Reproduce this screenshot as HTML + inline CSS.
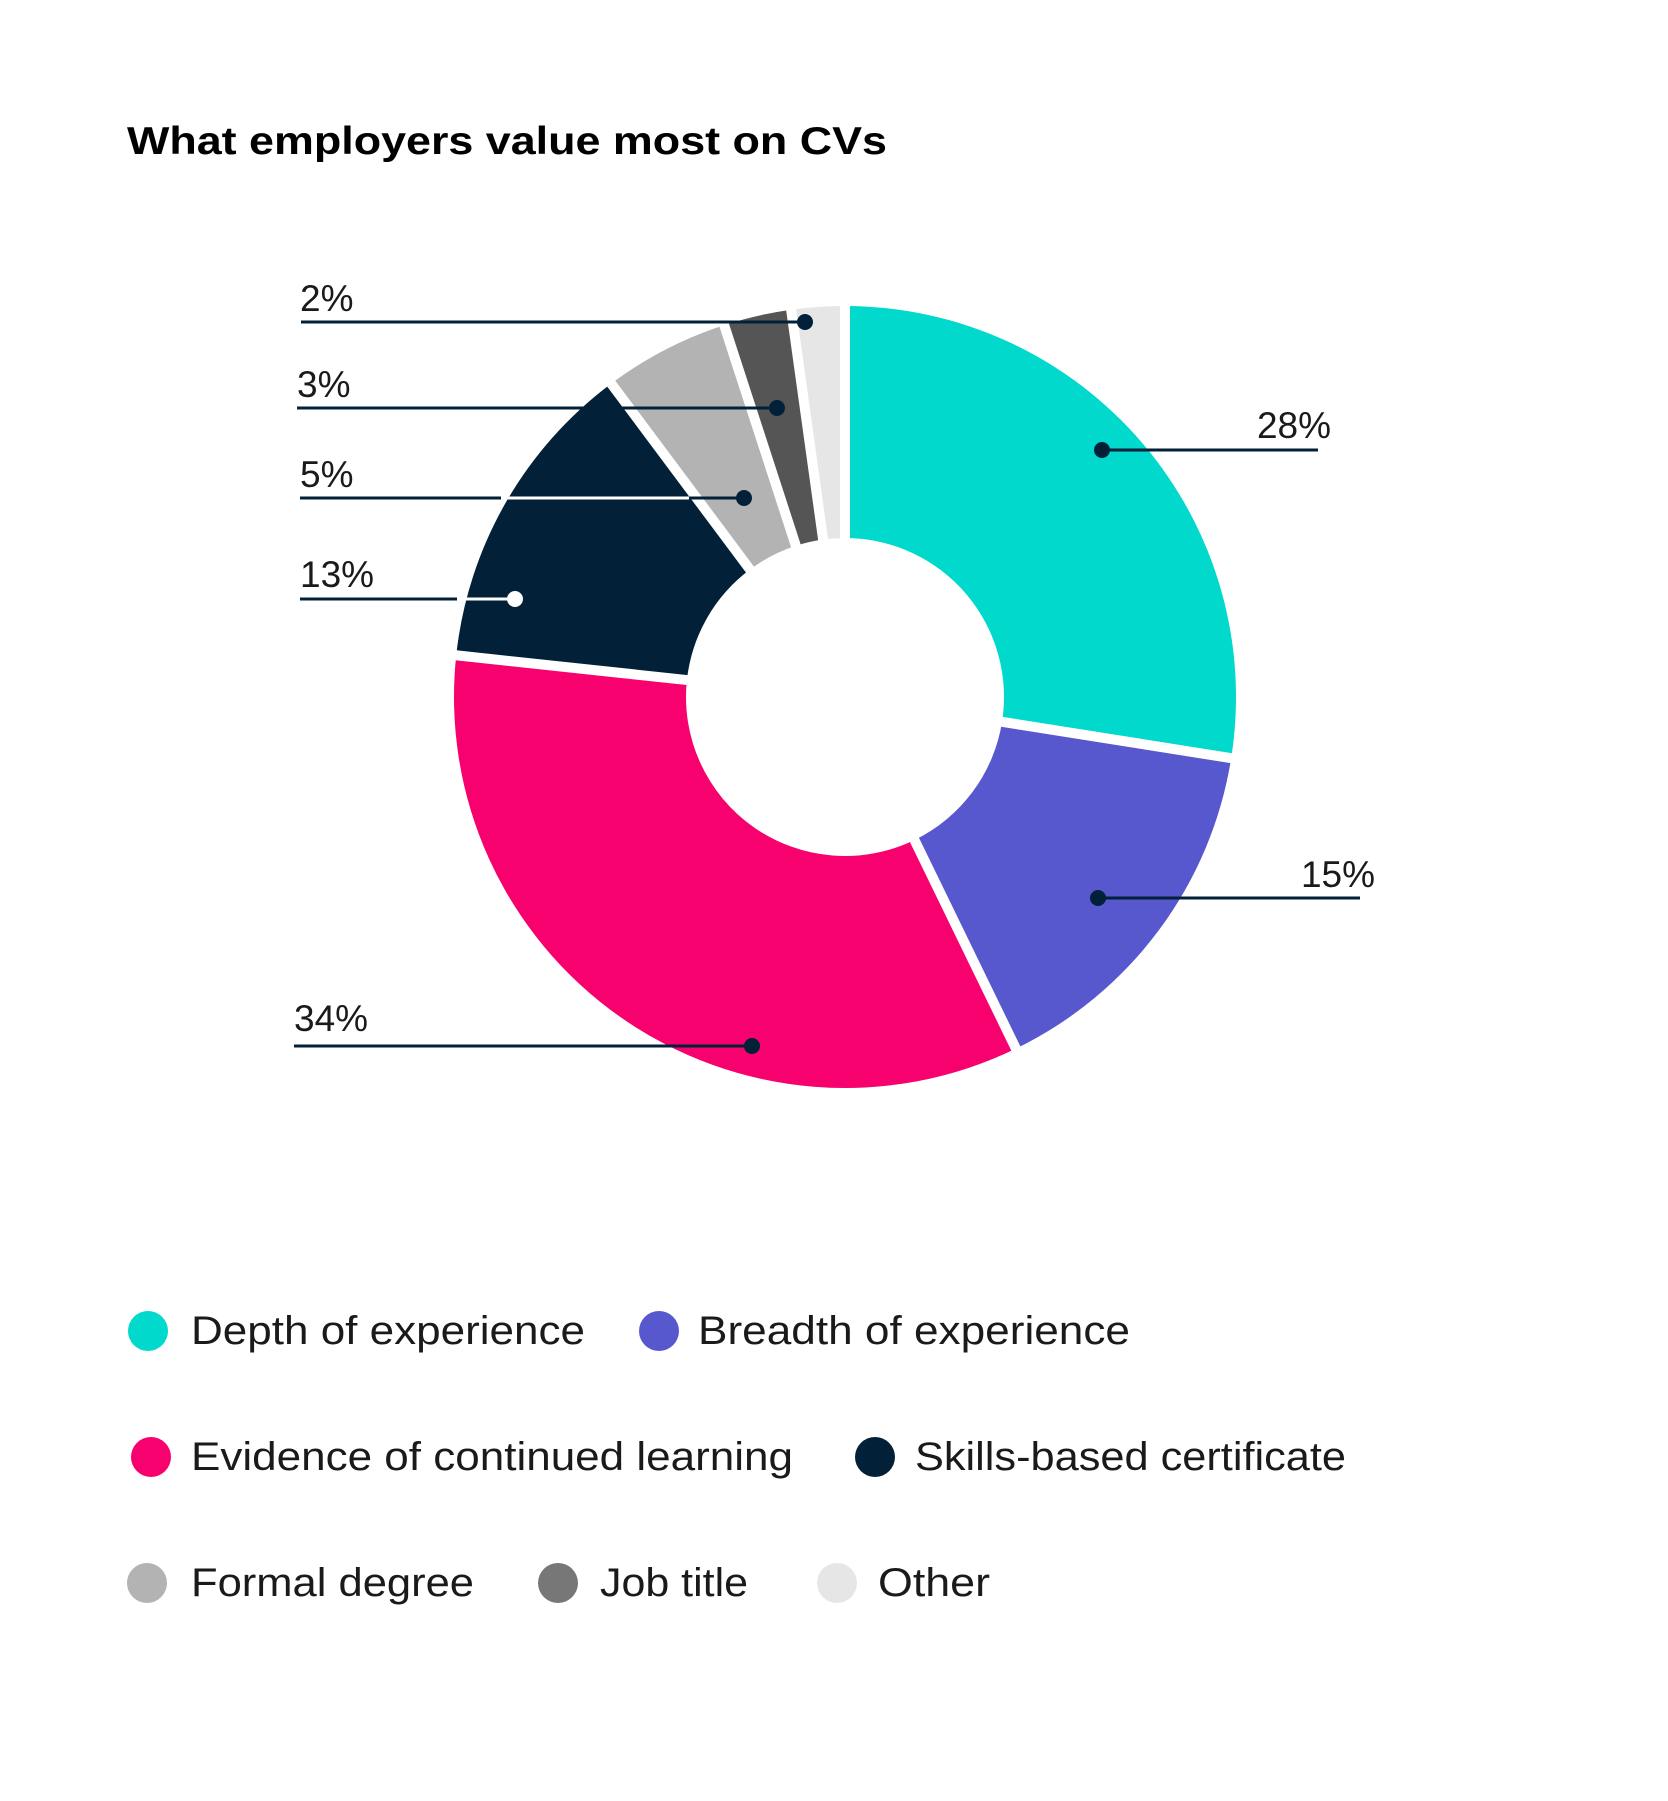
<!DOCTYPE html>
<html><head><meta charset="utf-8"><style>
html,body{margin:0;padding:0;background:#fff;}
svg{display:block;}
text{font-family:"Liberation Sans",sans-serif;}
</style></head><body>
<svg id="s" width="1668" height="1801" viewBox="0 0 1668 1801" xmlns="http://www.w3.org/2000/svg">
<rect width="1668" height="1801" fill="#fff"/>
<text x="127" y="154" font-size="39" font-weight="bold" fill="#000" textLength="760" lengthAdjust="spacingAndGlyphs">What employers value most on CVs</text>
<g transform="translate(-6,-5)">
<g id="pie"></g>
<g id="seps"></g>
<g stroke-width="3" fill="none">
<line x1="307" y1="327" x2="811" y2="327" stroke="#022038"/>
<line x1="303" y1="413" x2="783" y2="413" stroke="#022038"/>
<line x1="306" y1="503" x2="507" y2="503" stroke="#022038"/>
<line x1="507" y1="503" x2="695" y2="503" stroke="#fff"/>
<line x1="695" y1="503" x2="750" y2="503" stroke="#022038"/>
<line x1="306" y1="604" x2="463" y2="604" stroke="#022038"/>
<line x1="463" y1="604" x2="521" y2="604" stroke="#fff"/>
<line x1="1108" y1="455" x2="1324" y2="455" stroke="#022038"/>
<line x1="1104" y1="903" x2="1366" y2="903" stroke="#022038"/>
<line x1="300" y1="1051" x2="758" y2="1051" stroke="#022038"/>
</g>
<g fill="#022038">
<circle cx="811" cy="327" r="8"/><circle cx="783" cy="413" r="8"/><circle cx="750" cy="503" r="8"/>
<circle cx="521" cy="604" r="8" fill="#fff"/>
<circle cx="1108" cy="455" r="8"/><circle cx="1104" cy="903" r="8"/><circle cx="758" cy="1051" r="8"/>
</g>
<g font-size="37" fill="#1a1a1a">
<text x="306" y="316">2%</text>
<text x="303" y="402">3%</text>
<text x="306" y="492">5%</text>
<text x="306" y="592">13%</text>
<text x="1337" y="443" text-anchor="end">28%</text>
<text x="1381" y="892" text-anchor="end">15%</text>
<text x="300" y="1036">34%</text>
</g>
</g>
<g transform="translate(0,-10)">
<g>
<circle cx="148" cy="1341" r="20" fill="#00D9CC"/>
<circle cx="659" cy="1341" r="20" fill="#5757CE"/>
<circle cx="151" cy="1467" r="20" fill="#F7016E"/>
<circle cx="875" cy="1467" r="20" fill="#022038"/>
<circle cx="147" cy="1593" r="20" fill="#B3B3B3"/>
<circle cx="558" cy="1593" r="20" fill="#777777"/>
<circle cx="837" cy="1593" r="20" fill="#E6E6E6"/>
</g>
<g font-size="40" fill="#1a1a1a">
<text x="191" y="1354" textLength="394" lengthAdjust="spacingAndGlyphs">Depth of experience</text>
<text x="698" y="1354" textLength="432" lengthAdjust="spacingAndGlyphs">Breadth of experience</text>
<text x="191" y="1480" textLength="602" lengthAdjust="spacingAndGlyphs">Evidence of continued learning</text>
<text x="915" y="1480" textLength="431" lengthAdjust="spacingAndGlyphs">Skills-based certificate</text>
<text x="191" y="1606" textLength="283" lengthAdjust="spacingAndGlyphs">Formal degree</text>
<text x="600" y="1606" textLength="148" lengthAdjust="spacingAndGlyphs">Job title</text>
<text x="878" y="1606" textLength="112" lengthAdjust="spacingAndGlyphs">Other</text>
</g>
</g>
</svg>
<script>
(function(){
var cx=851,cy=702,R=391,r=159;
var cum=[0,0.275,0.428,0.767,0.898,0.950,0.978,1.0];
var cols=["#00D9CC","#5757CE","#F7016E","#022038","#B3B3B3","#555555","#E6E6E6"];
function pt(f,rad){var a=f*2*Math.PI;return [cx+rad*Math.sin(a),cy-rad*Math.cos(a)];}
var ns="http://www.w3.org/2000/svg",g=document.getElementById("pie"),sg=document.getElementById("seps");
for(var i=0;i<7;i++){
 var a0=cum[i],a1=cum[i+1],lg=(a1-a0)>0.5?1:0;
 var p0=pt(a0,R),p1=pt(a1,R),q1=pt(a1,r),q0=pt(a0,r);
 var d="M"+p0+" A"+R+","+R+" 0 "+lg+" 1 "+p1+" L"+q1+" A"+r+","+r+" 0 "+lg+" 0 "+q0+" Z";
 var p=document.createElementNS(ns,"path");p.setAttribute("d",d);p.setAttribute("fill",cols[i]);g.appendChild(p);
 var a=pt(a0,r-5),b=pt(a0,R+5);
 var l=document.createElementNS(ns,"line");
 l.setAttribute("x1",a[0]);l.setAttribute("y1",a[1]);l.setAttribute("x2",b[0]);l.setAttribute("y2",b[1]);
 l.setAttribute("stroke","#fff");l.setAttribute("stroke-width","10");sg.appendChild(l);
}
})();
</script>
</body></html>
